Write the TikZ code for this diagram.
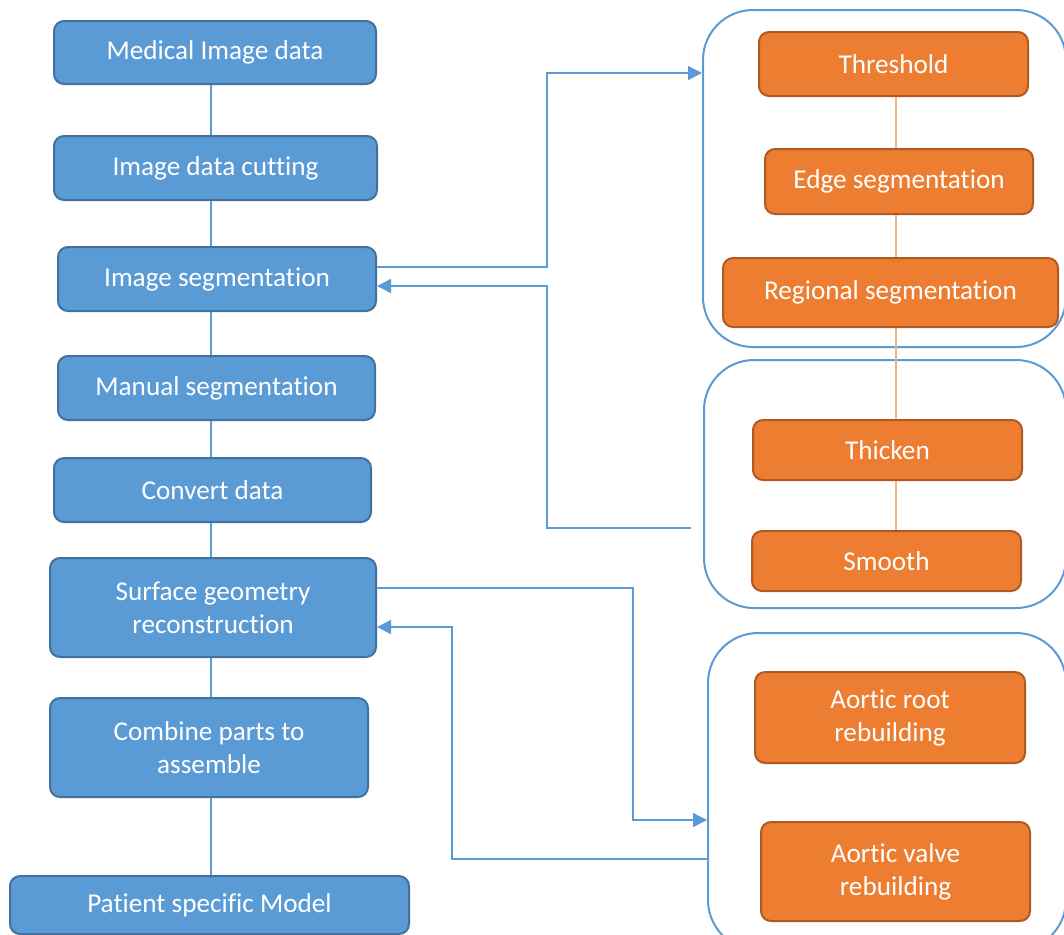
\documentclass[tikz,border=0pt]{standalone}
\usepackage{fontspec}
\setmainfont{Carlito}[Ligatures=NoCommon]
\usetikzlibrary{arrows.meta}
\definecolor{offblue}{HTML}{5B9BD5}
\definecolor{offblueline}{HTML}{41719C}
\definecolor{offorange}{HTML}{ED7D31}
\definecolor{offorangeline}{HTML}{AE5A21}
\definecolor{lightorange}{HTML}{F4B183}
\begin{document}
\begin{tikzpicture}[x=0.5pt,y=-0.5pt,
		box/.style={rounded corners=5pt, line width=1pt, text=white, align=center, inner sep=0pt, font=\fontsize{13.6}{16.5}\selectfont},
		bluebox/.style={box, draw=offblueline, fill=offblue},
		orangebox/.style={box, draw=offorangeline, fill=offorange},
		group/.style={draw=offblue, line width=1pt, rounded corners=25pt, inner sep=0pt},
		link/.style={draw=offblue, line width=0.75pt},
		olink/.style={draw=lightorange, line width=0.75pt},
		arr/.style={link, -{Triangle[length=7pt,width=7pt]}}]
		\useasboundingbox (0,0) rectangle (1064,934);
		
		\node[group, minimum width=181.5pt, minimum height=168.5pt] (g1) at (884.5,178.5) {};
		\node[group, minimum width=181pt, minimum height=124pt] (g2) at (885,484) {};
		\node[group, minimum width=179pt, minimum height=158.5pt] (g3) at (887,791.5) {};
		
		\node[bluebox, minimum width=161pt, minimum height=31.5pt] (med) at (215,52.5) {Medical Image data};
		\node[bluebox, minimum width=161.5pt, minimum height=32pt] (cut) at (215.5,168) {Image data cutting};
		\node[bluebox, minimum width=159pt, minimum height=32pt] (seg) at (217,279) {Image segmentation};
		\node[bluebox, minimum width=158.5pt, minimum height=32pt] (man) at (216.5,388) {Manual segmentation};
		\node[bluebox, minimum width=158.5pt, minimum height=32pt] (conv) at (212.5,490) {Convert data};
		\node[bluebox, minimum width=163pt, minimum height=49.5pt] (surf) at (213,607.5) {Surface geometry\\reconstruction};
		\node[bluebox, minimum width=159pt, minimum height=49.5pt] (comb) at (209,747.5) {Combine parts to\\assemble};
		\node[bluebox, minimum width=199.5pt, minimum height=29pt] (pat) at (209.5,905) {Patient specific Model};
		
		\node[orangebox, minimum width=134.5pt, minimum height=32pt] (thr) at (893.5,64) {Threshold};
		\node[orangebox, minimum width=134pt, minimum height=32.5pt] (edge) at (899,181.5) {Edge segmentation};
		\node[orangebox, minimum width=167.5pt, minimum height=34.5pt] (reg) at (890.5,292.5) {Regional segmentation};
		\node[orangebox, minimum width=134.5pt, minimum height=30pt] (thick) at (887.5,450) {Thicken};
		\node[orangebox, minimum width=134.5pt, minimum height=30pt] (smooth) at (886.5,561) {Smooth};
		\node[orangebox, minimum width=135pt, minimum height=45.5pt] (root) at (890,717.5) {Aortic root\\rebuilding};
		\node[orangebox, minimum width=134.5pt, minimum height=49.5pt] (valve) at (895.5,871.5) {Aortic valve\\rebuilding};
		
		\draw[link] (211,0 |- med.south) -- (211,0 |- cut.north);
		\draw[link] (211,0 |- cut.south) -- (211,0 |- seg.north);
		\draw[link] (211,0 |- seg.south) -- (211,0 |- man.north);
		\draw[link] (211,0 |- man.south) -- (211,0 |- conv.north);
		\draw[link] (211,0 |- conv.south) -- (211,0 |- surf.north);
		\draw[link] (211,0 |- surf.south) -- (211,0 |- comb.north);
		\draw[link] (211,0 |- comb.south) -- (211,0 |- pat.north);
		
		\draw[olink] (896,0 |- thr.south) -- (896,0 |- edge.north);
		\draw[olink] (896,0 |- edge.south) -- (896,0 |- reg.north);
		\draw[olink] (896,0 |- reg.south) -- (896,0 |- thick.north);
		\draw[olink] (896,0 |- thick.south) -- (896,0 |- smooth.north);
		
		\draw[arr] ([yshift=6pt]seg.east) -| (547,73) -- (g1.west |- 0,73);
		\draw[arr] ([xshift=-6pt]g2.west |- 0,528) -| (547,286) -- ([yshift=-3.5pt]seg.east);
		\draw[arr] ([yshift=9.75pt]surf.east) -| (633,820) -- (g3.west |- 0,820);
		\draw[arr] (g3.west |- 0,859) -| (452,627) -- ([yshift=-9.75pt]surf.east);
\end{tikzpicture}
\end{document}
